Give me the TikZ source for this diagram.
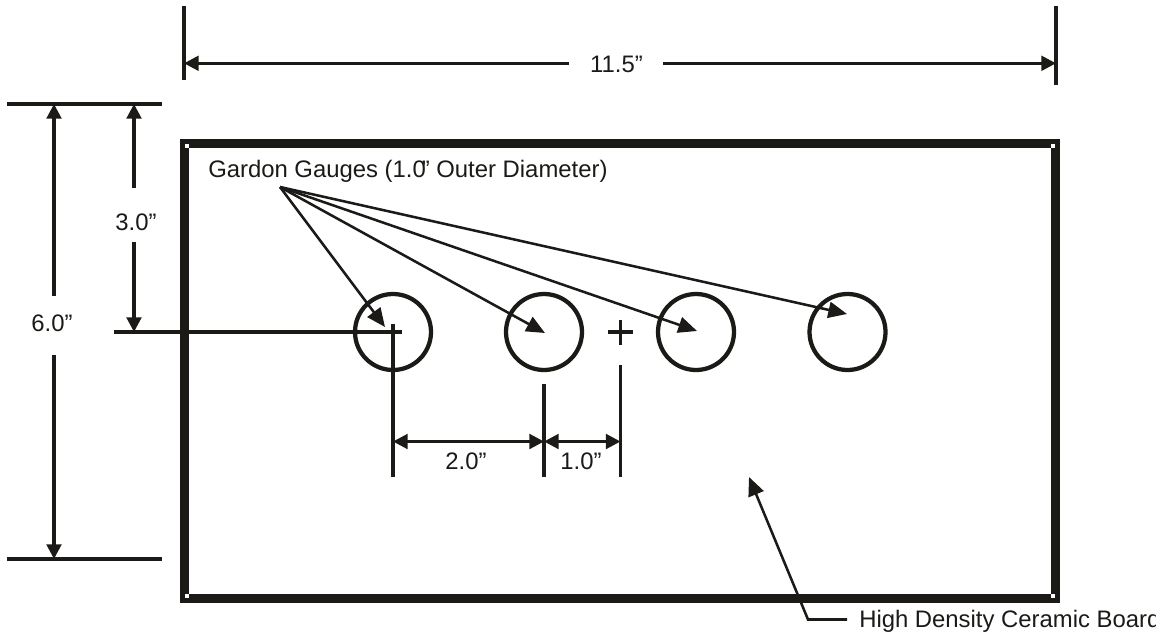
\documentclass[tikz,border=0pt]{standalone}
\usepackage{fontspec}
\setmainfont{Liberation Sans}
\usetikzlibrary{arrows.meta}
\definecolor{ink}{HTML}{1C1A17}
\begin{document}
\begin{tikzpicture}[x=0.75pt,y=-0.75pt,color=ink,text=ink,font=\fontsize{17.9}{20}\selectfont]
\tikzstyle{thin line} = [line width=2.3pt] % dimension lines
\tikzstyle{dim} = [thin line, -{Triangle[length=11pt,width=11pt]}] % dimension arrow
\tikzstyle{dimboth} = [thin line, {Triangle[length=11pt,width=11pt]}-{Triangle[length=11pt,width=11pt]}] % arrow at both ends
\tikzstyle{leader} = [line width=1.9pt, -{Triangle[length=14pt,width=12pt]}] % pointer arrow
\tikzstyle{gauge} = [circle, draw, line width=3.2pt, minimum size=57pt, inner sep=0pt] % gauge circle
\tikzstyle{corner} = [fill=white, minimum size=3pt, inner sep=0pt] % board corner mark
\useasboundingbox (0,0) rectangle (1166,639);

% board
\coordinate (boardA) at (184.5,143.5);
\coordinate (boardB) at (1055.5,598.5);
\draw[line width=6.75pt] (boardA) rectangle (boardB);
\node[corner] (cornerA) at (187,145.5) {};
\node[corner] (cornerB) at (1053,145.5) {};
\node[corner] (cornerC) at (187,596) {};
\node[corner] (cornerD) at (1053,596) {};

% gauges
\node[gauge] (gaugeA) at (393,332) {};
\node[gauge] (gaugeB) at (544,332) {};
\node[gauge] (gaugeC) at (696,332) {};
\node[gauge] (gaugeD) at (847.5,332) {};

% width of the board
\coordinate (topL) at (184,6);
\coordinate (topLb) at (184,80);
\coordinate (topR) at (1056,6);
\coordinate (topRb) at (1056,85);
\coordinate (midL) at (184,63.3);
\coordinate (midR) at (1056,63.3);
\coordinate (gapL) at (569,63.3);
\coordinate (gapR) at (663,63.3);
\node (width) at (616.5,64) {11.5”};
\draw[thin line] (topL) -- (topLb);
\draw[thin line] (topR) -- (topRb);
\draw[dim] (gapL) -- (midL);
\draw[dim] (gapR) -- (midR);

% height of the board
\coordinate (upA) at (7,104);
\coordinate (upB) at (162,104);
\coordinate (lowA) at (7,559);
\coordinate (lowB) at (162,559);
\coordinate (upH) at (54,104);
\coordinate (lowH) at (54,559);
\coordinate (gapU) at (54,296);
\coordinate (gapD) at (54,355);
\coordinate (upG) at (134,104);
\coordinate (gapGU) at (134,188);
\coordinate (gapGD) at (134,242);
\coordinate (axisA) at (114,332);
\coordinate (axisB) at (402,332);
\coordinate (axisG) at (134,332);
\draw[thin line] (upA) -- (upB);
\draw[thin line] (lowA) -- (lowB);
\node (height) at (52,323.5) {6.0”};
\draw[dim] (gapU) -- (upH);
\draw[dim] (gapD) -- (lowH);
\draw[thin line] (axisA) -- (axisB);
\node (depth) at (136,222) {3.0”};
\draw[dim] (gapGU) -- (upG);
\draw[dim] (gapGD) -- (axisG);

% spacing of the gauges
\coordinate (dropA) at (393,324);
\coordinate (endA) at (393,477);
\coordinate (dropB) at (544,384);
\coordinate (endB) at (544,477);
\coordinate (dropC) at (620.5,365);
\coordinate (endC) at (620.5,477);
\coordinate (spA) at (393,441.5);
\coordinate (spB) at (544,441.5);
\coordinate (spC) at (620.5,441.5);
\draw[thin line] (dropA) -- (endA);
\draw[thin line] (dropB) -- (endB);
\draw[thin line] (dropC) -- (endC);
\draw[dimboth] (spA) -- (spB);
\draw[dimboth] (spB) -- (spC);
\node (twoin) at (466,461) {2.0”};
\node (onein) at (581,461) {1.0”};

% centre mark
\coordinate (crossL) at (608,332);
\coordinate (crossR) at (633,332);
\coordinate (crossU) at (620.5,320);
\coordinate (crossD) at (620.5,345);
\draw[thin line] (crossL) -- (crossR);
\draw[thin line] (crossU) -- (crossD);

% gauge labels
\node[anchor=west, inner sep=0pt] (gauges) at (208,171) {Gardon Gauges (1.0\kern-3pt” Outer Diameter)};
\coordinate (apex) at (280,187);
\coordinate (tipA) at (385,327);
\coordinate (tipB) at (545,333);
\coordinate (tipC) at (697,331);
\coordinate (tipD) at (847,314);
\foreach \t in {tipA,tipB,tipC,tipD}
    \draw[leader] (apex) -- (\t);

% board label
\coordinate (tipBoard) at (749,477);
\coordinate (bend) at (808,619.5);
\coordinate (bendEnd) at (847,619.5);
\draw[leader, {Triangle[length=14pt,width=12pt]}-] (tipBoard) -- (bend) -- (bendEnd);
\begin{scope}
\clip (840,600) rectangle (1155,639);
\node[anchor=west, inner sep=0pt] (boardlabel) at (859,621.5) {High Density Ceramic Board};
\end{scope}
\end{tikzpicture}
\end{document}
